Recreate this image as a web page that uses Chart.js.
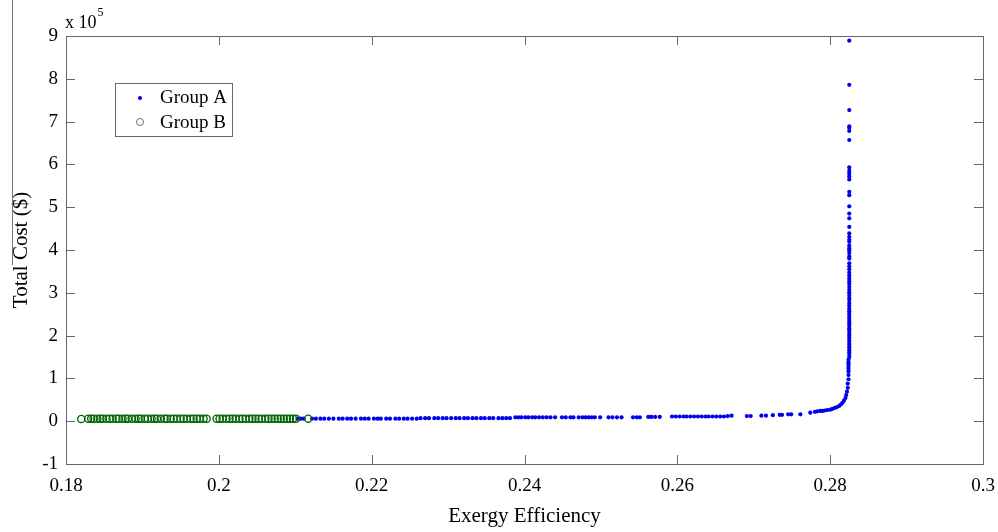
<!DOCTYPE html>
<html>
<head>
<meta charset="utf-8">
<script src="https://cdn.jsdelivr.net/npm/chart.js@4/dist/chart.umd.min.js"></script>
<style>
  html,body{margin:0;padding:0;background:#fff;}
  #wrap{position:relative;width:998px;height:532px;}
  #edge{position:absolute;left:12px;top:0;width:0;height:265px;border-left:1px solid #777;}
</style>
</head>
<body>
<div id="wrap">
  <canvas id="c" width="998" height="532"></canvas>
  <div id="edge"></div>
</div>
<script>
'use strict';
// ── data: [exergy efficiency, total cost in 1e5 $] ──
const groupA=[
  [0.2103,0.06],[0.2107,0.06],[0.2111,0.06],[0.2122,0.06],[0.2127,0.06],[0.2133,0.06],[0.2138,0.06],[0.2144,0.06],
  [0.2150,0.06],[0.2157,0.06],[0.2162,0.06],[0.2168,0.06],[0.2173,0.06],[0.2179,0.06],[0.2186,0.06],[0.2191,0.06],
  [0.2196,0.06],[0.2203,0.06],[0.2208,0.06],[0.2212,0.06],[0.2219,0.06],[0.2224,0.06],[0.2231,0.06],[0.2236,0.06],
  [0.2242,0.06],[0.2247,0.06],[0.2253,0.06],[0.2259,0.06],[0.2264,0.07],[0.2270,0.07],[0.2275,0.07],[0.2282,0.07],
  [0.2287,0.07],[0.2293,0.07],[0.2298,0.07],[0.2304,0.07],[0.2310,0.07],[0.2315,0.07],[0.2321,0.07],[0.2326,0.07],
  [0.2332,0.07],[0.2337,0.07],[0.2343,0.07],[0.2348,0.07],[0.2354,0.07],[0.2359,0.07],
  [0.2366,0.07],[0.2371,0.07],[0.2376,0.07],[0.2381,0.07],
  [0.2388,0.09],[0.2392,0.09],[0.2396,0.09],[0.2401,0.09],[0.2405,0.09],[0.2410,0.09],[0.2414,0.09],[0.2419,0.09],
  [0.2424,0.09],[0.2429,0.09],[0.2434,0.09],[0.2440,0.09],
  [0.2449,0.09],[0.2454,0.09],[0.2460,0.09],[0.2464,0.09],
  [0.2471,0.09],[0.2476,0.09],[0.2480,0.09],[0.2484,0.09],[0.2488,0.09],[0.2492,0.09],[0.2499,0.09],
  [0.2510,0.09],[0.2515,0.09],[0.2521,0.09],[0.2527,0.09],
  [0.2542,0.09],[0.2547,0.09],[0.2551,0.09],
  [0.2562,0.10],[0.2566,0.10],[0.2571,0.10],[0.2577,0.10],
  [0.2593,0.11],[0.2598,0.11],[0.2603,0.11],[0.2608,0.11],[0.2612,0.11],[0.2617,0.11],[0.2622,0.11],[0.2627,0.11],
  [0.2632,0.11],[0.2637,0.11],[0.2641,0.11],[0.2646,0.11],[0.2651,0.11],[0.2656,0.11],[0.2661,0.11],[0.2666,0.12],[0.2671,0.13],
  [0.2691,0.12],[0.2696,0.12],[0.2710,0.13],[0.2716,0.13],
  [0.2725,0.14],[0.2734,0.15],[0.2737,0.15],[0.2745,0.16],[0.2749,0.16],[0.2761,0.16],
  [0.2774,0.20],[0.2780,0.22],[0.2783,0.23],[0.2787,0.24],[0.2790,0.24],[0.2793,0.25],[0.2796,0.26],[0.2800,0.27],
  [0.2803,0.29],[0.2806,0.31],[0.2809,0.33],[0.2812,0.36],[0.2814,0.39],[0.2816,0.43],[0.2818,0.48],[0.2820,0.54],
  [0.2821,0.61],[0.2822,0.69],[0.2823,0.78],[0.2823,0.88],[0.2824,0.98],[0.2824,1.08],
  [0.2824,1.16],[0.2824,1.22],[0.2824,1.27],[0.2824,1.33],[0.2824,1.38],[0.2824,1.44],[0.2825,1.50],[0.2825,1.55],
  [0.2825,1.61],[0.2825,1.66],[0.2825,1.72],[0.2825,1.78],[0.2825,1.83],[0.2825,1.89],[0.2825,1.95],[0.2825,2.00],
  [0.2825,2.06],[0.2825,2.12],[0.2825,2.17],[0.2825,2.23],[0.2825,2.29],[0.2825,2.34],[0.2825,2.40],[0.2825,2.46],
  [0.2825,2.51],[0.2825,2.57],[0.2825,2.63],[0.2825,2.70],[0.2825,2.76],[0.2825,2.83],[0.2825,2.88],[0.2825,2.95],
  [0.2825,3.01],[0.2825,3.07],[0.2825,3.14],[0.2825,3.21],[0.2825,3.27],[0.2825,3.33],[0.2825,3.40],[0.2825,3.47],
  [0.2825,3.55],[0.2825,3.62],[0.2825,3.69],[0.2825,3.80],[0.2825,3.85],[0.2825,3.93],[0.2825,3.99],[0.2825,4.04],
  [0.2825,4.10],[0.2825,4.19],[0.2825,4.24],[0.2825,4.31],[0.2825,4.39],
  [0.2825,4.54],[0.2825,4.74],[0.2825,4.85],[0.2825,5.02],[0.2825,5.28],[0.2825,5.36],[0.2825,5.65],[0.2825,5.72],
  [0.2825,5.79],[0.2825,5.85],[0.2825,5.93],[0.2825,6.57],[0.2825,6.78],[0.2825,6.85],[0.2825,6.89],[0.2825,7.27],
  [0.2825,7.86],[0.2825,8.89]
];
const groupB=[
  [0.1820,0.05],[0.1829,0.06],[0.1833,0.06],[0.1836,0.06],[0.1841,0.06],[0.1845,0.06],[0.1848,0.06],[0.1853,0.06],
  [0.1857,0.06],[0.1861,0.06],[0.1866,0.06],[0.1869,0.06],[0.1874,0.06],[0.1878,0.06],[0.1881,0.06],[0.1886,0.06],
  [0.1891,0.06],[0.1895,0.06],[0.1898,0.06],[0.1903,0.06],[0.1907,0.06],[0.1912,0.06],[0.1916,0.06],[0.1919,0.06],
  [0.1924,0.06],[0.1929,0.06],[0.1932,0.06],[0.1937,0.06],[0.1941,0.06],[0.1945,0.06],[0.1950,0.06],[0.1954,0.06],
  [0.1958,0.06],[0.1963,0.06],[0.1967,0.06],[0.1971,0.06],[0.1975,0.06],[0.1980,0.06],[0.1984,0.06],[0.1997,0.06],
  [0.2001,0.06],[0.2005,0.06],[0.2010,0.06],[0.2014,0.06],[0.2018,0.06],[0.2022,0.06],[0.2027,0.06],[0.2031,0.06],
  [0.2035,0.06],[0.2040,0.06],[0.2044,0.06],[0.2048,0.06],[0.2052,0.06],[0.2056,0.06],[0.2061,0.06],[0.2065,0.06],
  [0.2069,0.06],[0.2073,0.06],[0.2077,0.06],[0.2081,0.06],[0.2085,0.06],[0.2089,0.06],[0.2093,0.06],[0.2097,0.06],
  [0.2101,0.06],[0.2117,0.06]
];
const seriesNames=['Group A','Group B'];
const xTicks=[0.18,0.2,0.22,0.24,0.26,0.28,0.3];
const yTicks=[-1,0,1,2,3,4,5,6,7,8,9];
const yExponent='5';

const SERIF="'Liberation Serif','Times New Roman',serif";
const BLUE='rgb(0,0,235)',GREEN='rgb(0,100,0)',AXIS='#666';
const toXY=arr=>arr.map(p=>({x:p[0],y:p[1]}));

// box, inward ticks on all four sides, exponent label and inset legend (MATLAB look)
const matlabFrame={
  id:'matlabFrame',
  afterDraw(chart){
    const {ctx,chartArea:a,scales:{x,y}}=chart;const tl=9;
    ctx.save();ctx.strokeStyle=AXIS;ctx.lineWidth=1;
    ctx.strokeRect(Math.round(a.left)+0.5,Math.round(a.top)+0.5,Math.round(a.right-a.left),Math.round(a.bottom-a.top));
    ctx.beginPath();
    xTicks.forEach(v=>{const px=Math.round(x.getPixelForValue(v))+0.5;
      ctx.moveTo(px,a.bottom);ctx.lineTo(px,a.bottom-tl);ctx.moveTo(px,a.top);ctx.lineTo(px,a.top+tl);});
    yTicks.forEach(v=>{const py=Math.round(y.getPixelForValue(v))+0.5;
      ctx.moveTo(a.left,py);ctx.lineTo(a.left+tl,py);ctx.moveTo(a.right,py);ctx.lineTo(a.right-tl,py);});
    ctx.stroke();
    // x 10^5
    ctx.fillStyle='#000';ctx.textBaseline='alphabetic';ctx.textAlign='left';
    ctx.font='18px '+SERIF;ctx.fillText('x 10',a.left-1,a.top-8);
    const w=ctx.measureText('x 10').width;
    ctx.font='12px '+SERIF;ctx.fillText(yExponent,a.left-1+w+1,a.top-20);
    // legend
    const lx=115.5,ly=83.5,lw=117,lh=53;
    ctx.fillStyle='#fff';ctx.fillRect(lx,ly,lw,lh);ctx.strokeStyle=AXIS;ctx.strokeRect(lx,ly,lw,lh);
    ctx.fillStyle=BLUE;ctx.beginPath();ctx.arc(140,98,2,0,Math.PI*2);ctx.fill();
    ctx.strokeStyle='#5a805a';ctx.beginPath();ctx.arc(140,122,3.5,0,Math.PI*2);ctx.stroke();
    ctx.fillStyle='#000';ctx.font='19px '+SERIF;ctx.textBaseline='middle';
    ctx.fillText(seriesNames[0],160,98);ctx.fillText(seriesNames[1],160,123);
    ctx.restore();
  }
};

new Chart(document.getElementById('c'),{
  type:'scatter',
  data:{datasets:[
    {label:seriesNames[1],data:toXY(groupB),pointStyle:'circle',pointRadius:3.6,borderWidth:1.3,
      borderColor:GREEN,backgroundColor:'rgba(0,0,0,0)'},
    {label:seriesNames[0],data:toXY(groupA),pointStyle:'circle',pointRadius:2.1,borderWidth:0,
      backgroundColor:BLUE,borderColor:BLUE}
  ]},
  options:{
    responsive:false,animation:false,
    layout:{padding:{top:36,right:15,left:0,bottom:0}},
    plugins:{legend:{display:false},tooltip:{enabled:false}},
    scales:{
      x:{type:'linear',min:0.18,max:0.3,
        grid:{display:false,drawTicks:false},border:{display:false},
        afterBuildTicks:s=>{s.ticks=xTicks.map(v=>({value:v}))},
        afterFit:s=>{s.height=68;s.paddingLeft=0;s.paddingRight=0},
        ticks:{padding:11,color:'#000',font:{family:SERIF,size:19},maxRotation:0,
          callback:v=>String(Math.round(v*100)/100)},
        title:{display:true,text:'Exergy Efficiency',color:'#000',font:{family:SERIF,size:21},padding:{top:0,bottom:3}}},
      y:{type:'linear',min:-1,max:9,
        grid:{display:false,drawTicks:false},border:{display:false},
        afterBuildTicks:s=>{s.ticks=yTicks.map(v=>({value:v}))},
        afterFit:s=>{s.width=66;s.paddingTop=0;s.paddingBottom=0},
        ticks:{padding:8,color:'#000',font:{family:SERIF,size:19},callback:v=>String(v)},
        title:{display:true,text:'Total Cost ($)',color:'#000',font:{family:SERIF,size:21},padding:{top:9,bottom:0}}}
    }
  },
  plugins:[matlabFrame]
});
</script>
</body>
</html>
